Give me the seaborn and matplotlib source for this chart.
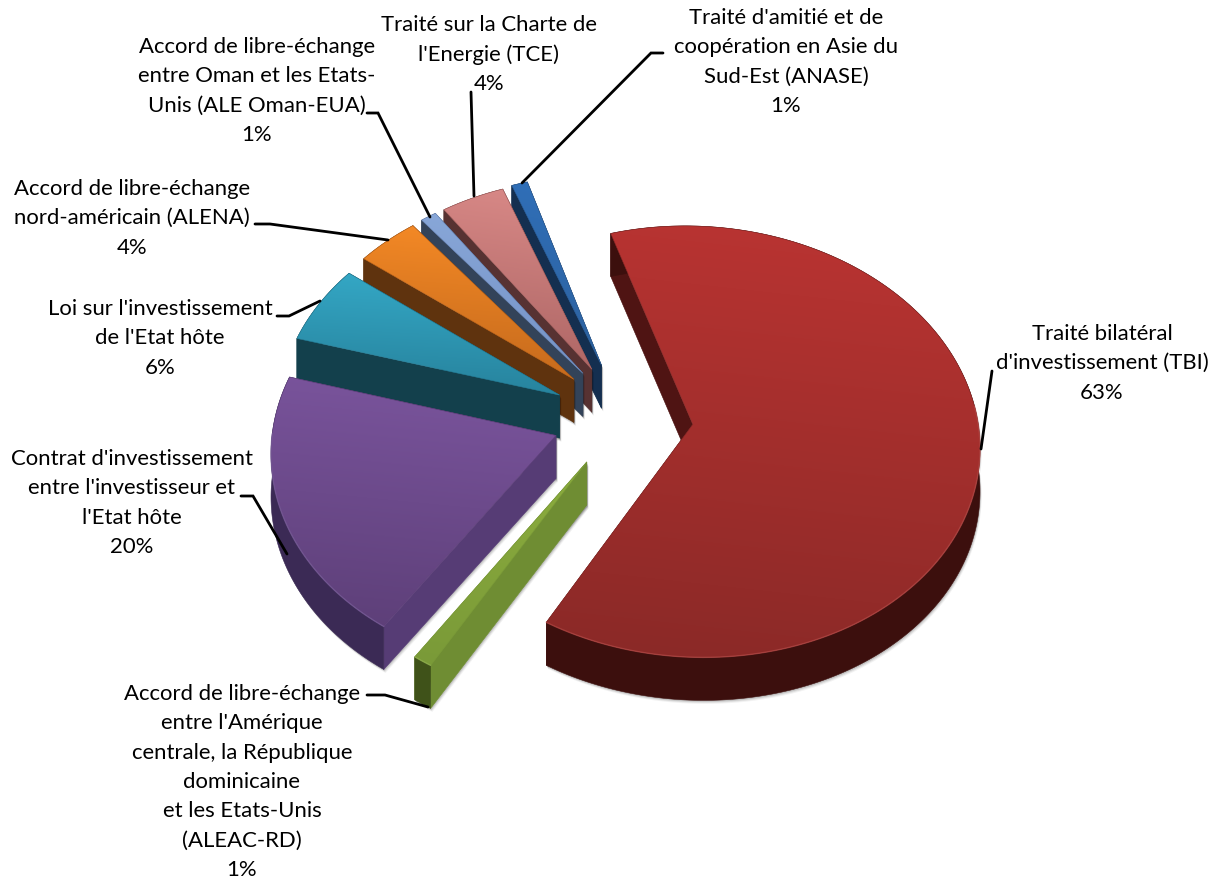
import numpy as np
import matplotlib
matplotlib.use("Agg")
import matplotlib.pyplot as plt
from matplotlib.colors import LinearSegmentedColormap
from matplotlib.patches import Polygon
import seaborn as sns

# Share of each legal instrument, clockwise from the bilateral treaties
short_names = ["TBI", "ALEAC-RD", "Contrat", "Loi", "ALENA", "ALE Oman-EUA", "TCE", "ANASE"]
shares = [63, 1, 20, 6, 4, 1, 4, 1]
label_texts = [
    "Traité bilatéral\nd'investissement (TBI)",
    "Accord de libre-échange\nentre l'Amérique\ncentrale, la République\ndominicaine\net les Etats-Unis\n(ALEAC-RD)",
    "Contrat d'investissement\nentre l'investisseur et\nl'Etat hôte",
    "Loi sur l'investissement\nde l'Etat hôte",
    "Accord de libre-échange\nnord-américain (ALENA)",
    "Accord de libre-échange\nentre Oman et les Etats-\nUnis (ALE Oman-EUA)",
    "Traité sur la Charte de\nl'Energie (TCE)",
    "Traité d'amitié et de\ncoopération en Asie du\nSud-Est (ANASE)",
]

# Face colours per slice: top face (far, near), cut face, outer wall
top_far = ["#bb3432", "#8cad3e", "#7b559e", "#35aac8", "#f78b26", "#8aa9da", "#da8a88", "#3070ba"]
top_near = ["#8a2927", "#7a9a38", "#5d3f78", "#26809a", "#c2681c", "#7390c4", "#ab6463", "#2c609c"]
cut_colors = ["#4f1413", "#6f8d33", "#563c75", "#13404c", "#5f330e", "#334359", "#573232", "#142f50"]
wall_colors = ["#3c0f0d", "#3f5219", "#3b2a55", "#13404c", "#5f330e", "#334359", "#573232", "#142f50"]
rim_colors = ["#c0504d", "#9bbb59", "#8064a2", "#4bacc6", "#f79646", "#95b3d7", "#d99694", "#4f81bd"]

# Extra pixel shift of a slice on top of the common explosion
slice_nudge = [(5, 0), (3, 0), (0, 0), (0, 0), (2, -3), (3, -4), (3, -4), (3, -5)]

# Placement of each label: centre x, centre y of the first line
label_xy = [(1102, 334), (242, 694), (132, 459), (160, 309), (132, 189), (257, 47), (489, 25), (786, 18)]
# Leader polylines in canvas pixels
leaders = [
    [(992, 371), (981, 449)],
    [(367, 695), (385, 695), (428, 707)],
    [(241, 496), (253, 496), (287, 554)],
    [(277, 316), (289, 316), (320, 301)],
    [(255, 224), (270, 224), (388, 240)],
    [(367, 113), (378, 113), (430, 217)],
    [(471, 92), (474, 196)],
    [(663, 53), (651, 53), (522, 183)],
]

# Pie geometry in canvas pixels
CX, CY = 620, 418
RX, RY = 283, 213
PERSPECTIVE = 0.08
SHEAR = 0.07
TILT = 0.03
EXPLODE = 0.24
DEPTH = 43
START = -14.0
LINE_H = 29.3

sns.set_theme(style="white")
plt.rcParams["font.family"] = ["Lato", "DejaVu Sans"]

fig = plt.figure(figsize=(12.2, 8.8), dpi=100, facecolor="white")
ax = fig.add_axes([0, 0, 1, 1])
ax.set_axis_off()


def project(u, v):
    # Pie plane to canvas: perspective, then the off-axis lean of the view
    s = 1.0 / (1.0 + PERSPECTIVE * v)
    px, py = RX * u * s, -RY * v * s
    return CX + px + SHEAR * py, CY + py - TILT * px


def slice_outline(a0, a1, nudge):
    mid = np.radians((a0 + a1) / 2)
    ou, ov = EXPLODE * np.sin(mid), EXPLODE * np.cos(mid)
    t = np.radians(np.linspace(a0, a1, max(8, int((a1 - a0) * 2))))
    ax_, ay_ = project(ou + np.sin(t), ov + np.cos(t))
    tx, ty = project(ou, ov)
    return np.array([tx, ty]) + nudge, np.column_stack([ax_, ay_]) + nudge


def extruded(edge):
    return np.vstack([edge, (edge + [0, DEPTH])[::-1]])


def wall(edge, color, z):
    ax.add_patch(Polygon(extruded(edge), closed=True, fc=color, ec=color, lw=0.4, zorder=z))


def wall_shadow(edge, z):
    # Faint contact shadow hugging an extruded edge
    for off, al in [(3.5, 0.05), (2.5, 0.08), (1.5, 0.12)]:
        ax.add_patch(Polygon(extruded(edge) + [off * 0.5, off], closed=True,
                             fc="black", ec="none", alpha=al, zorder=z))


def gradient_fill(poly_pts, far, near, z):
    cmap = LinearSegmentedColormap.from_list("face", [far, near])
    lo, hi = poly_pts.min(axis=0), poly_pts.max(axis=0)
    # colour runs mostly top to bottom with a slight lean to the lower left
    yy, xx = np.mgrid[0:1:64j, 0:1:64j]
    grad = np.clip(0.9 * yy + 0.1 * (1 - xx), 0, 1)
    im = ax.imshow(grad, cmap=cmap, vmin=0, vmax=1, origin="upper",
                   extent=(lo[0], hi[0], hi[1], lo[1]), aspect="auto",
                   zorder=z, interpolation="bilinear")
    patch = Polygon(poly_pts, closed=True, fc="none", ec="none", zorder=z)
    ax.add_patch(patch)
    im.set_clip_path(patch)
    ax.add_patch(Polygon(poly_pts, closed=True, fc="none", ec=near, lw=0.4, zorder=z))


angles = START + np.concatenate([[0], np.cumsum(shares)]) * 3.6

# Paint from the far slices to the near ones so overlaps resolve correctly
paint_order = [7, 6, 5, 4, 3, 2, 1, 0]
for rank, i in enumerate(paint_order):
    base = 10 + rank * 10
    a0, a1 = angles[i], angles[i + 1]
    tip, arc = slice_outline(a0, a1, slice_nudge[i])
    top = np.vstack([tip, arc])
    first_cut = np.vstack([tip, arc[:1]])
    last_cut = np.vstack([tip, arc[-1:]])

    for edge in (first_cut, last_cut, arc):
        wall_shadow(edge, base)

    wall(first_cut, cut_colors[i], base + 1)
    wall(last_cut, cut_colors[i], base + 1)
    wall(arc, wall_colors[i], base + 2)
    gradient_fill(top, top_far[i], top_near[i], base + 3)

    # bright rim where the top face meets the visible outer wall
    t = np.radians(np.linspace(a0, a1, len(arc)))
    front = np.cos(t) < 0.05
    if front.any():
        ax.plot(arc[front, 0], arc[front, 1], color=rim_colors[i], lw=1.0,
                alpha=0.55, zorder=base + 4, solid_capstyle="round")

for path in leaders:
    xs, ys = zip(*path)
    ax.plot(xs, ys, color="black", lw=2.0, zorder=200, solid_joinstyle="miter")

for text, share, (x, y) in zip(label_texts, shares, label_xy):
    for k, line in enumerate((text + f"\n{share}%").split("\n")):
        ax.text(x, y + k * LINE_H, line, ha="center", va="center",
                fontsize=15.9, color="black", zorder=210)

ax.set_xlim(0, 1220)
ax.set_ylim(880, 0)
fig.savefig("out.png", dpi=100, facecolor="white")
